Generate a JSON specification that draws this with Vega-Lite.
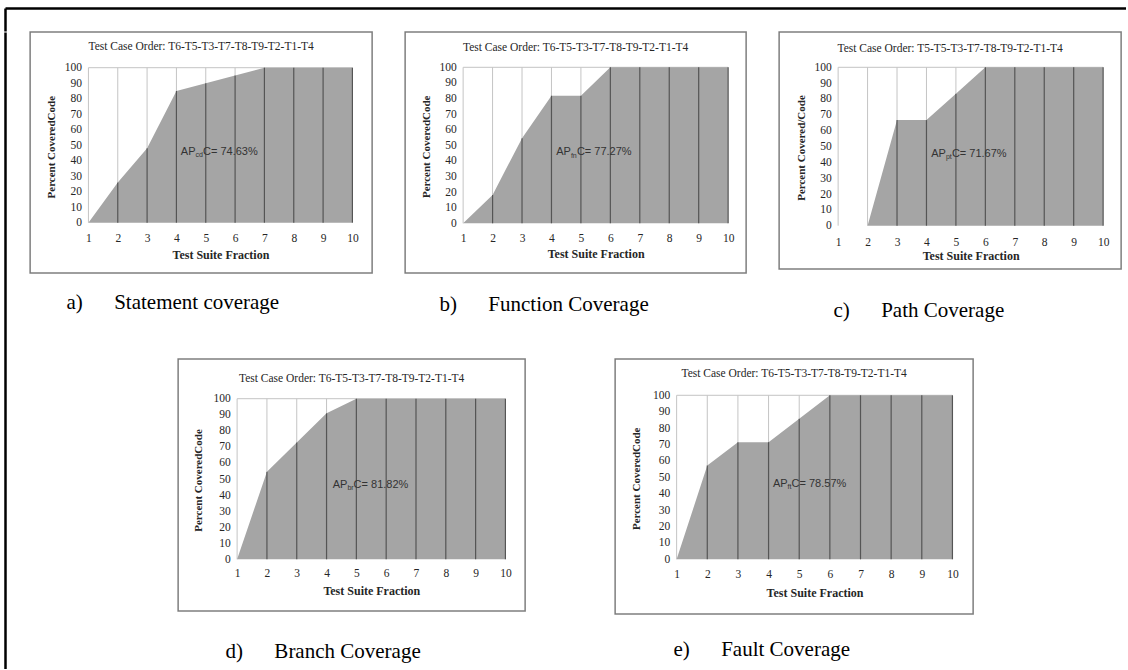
{
  "$schema": "https://vega.github.io/schema/vega-lite/v6.json",
  "padding": {"left": 5, "top": 8, "right": 0, "bottom": 0},
  "background": "white",
  "spacing": 0,
  "datasets": {
    "a": [{"x":1,"v":0},{"x":2,"v":26},{"x":3,"v":48},{"x":4,"v":85},{"x":5,"v":90},{"x":6,"v":95},{"x":7,"v":100},{"x":8,"v":100},{"x":9,"v":100},{"x":10,"v":100}],
    "b": [{"x":1,"v":0},{"x":2,"v":18.18},{"x":3,"v":54.55},{"x":4,"v":81.82},{"x":5,"v":81.82},{"x":6,"v":100},{"x":7,"v":100},{"x":8,"v":100},{"x":9,"v":100},{"x":10,"v":100}],
    "c": [{"x":1,"v":0},{"x":2,"v":0},{"x":3,"v":66.67},{"x":4,"v":66.67},{"x":5,"v":83.33},{"x":6,"v":100},{"x":7,"v":100},{"x":8,"v":100},{"x":9,"v":100},{"x":10,"v":100}],
    "d": [{"x":1,"v":0},{"x":2,"v":54.55},{"x":3,"v":72.73},{"x":4,"v":90.91},{"x":5,"v":100},{"x":6,"v":100},{"x":7,"v":100},{"x":8,"v":100},{"x":9,"v":100},{"x":10,"v":100}],
    "e": [{"x":1,"v":0},{"x":2,"v":57.14},{"x":3,"v":71.43},{"x":4,"v":71.43},{"x":5,"v":85.71},{"x":6,"v":100},{"x":7,"v":100},{"x":8,"v":100},{"x":9,"v":100},{"x":10,"v":100}],
    "ann_a": [{"ap":"AP","sub":"cd","val":"C= 74.63%"}],
    "ann_b": [{"ap":"AP","sub":"fn","val":"C= 77.27%"}],
    "ann_c": [{"ap":"AP","sub":"pt","val":"C= 71.67%"}],
    "ann_d": [{"ap":"AP","sub":"br","val":"C= 81.82%"}],
    "ann_e": [{"ap":"AP","sub":"ft","val":"C= 78.57%"}]
  },
  "vconcat": [
    {
      "width": 1121, "height": 23,
      "data": {"values": [{"v": 0}]},
      "mark": {"type": "point", "opacity": 0},
      "encoding": {
        "x": {"field": "v", "type": "quantitative", "axis": {"orient": "top", "domain": true, "domainColor": "#000000", "domainWidth": 2.5, "labels": false, "title": null}},
        "y": {"field": "v", "type": "quantitative", "axis": {"orient": "left", "domain": true, "domainColor": "#000000", "domainWidth": 2.5, "labels": false, "title": null}}
      }
    },
    {
      "spacing": 0,
      "hconcat": [
        {
          "width": 24, "height": 637,
          "data": {"values": [{"v": 0}]},
          "mark": {"type": "point", "opacity": 0},
          "encoding": {
            "y": {"field": "v", "type": "quantitative", "axis": {"orient": "left", "domain": true, "domainColor": "#000000", "domainWidth": 2.5, "labels": false, "title": null}}
          }
        },
        {
          "spacing": 36,
          "center": true,
          "vconcat": [
            {
              "spacing": 31,
              "hconcat": [
                {
                  "title": {"text": "a)\u00a0\u00a0\u00a0\u00a0\u00a0\u00a0Statement coverage", "orient": "bottom", "anchor": "start", "offset": 18.2, "dx": 37, "fontSize": 21, "color": "#000000"},
                  "vconcat": [
                    {
                      "width": 342, "height": 241,
                      "view": {"stroke": "#7f7f7f", "strokeWidth": 1.5},
                      "title": {"text": "Test Case Order: T6-T5-T3-T7-T8-T9-T2-T1-T4", "fontSize": 11.5, "offset": -20.75, "anchor": "middle", "color": "#262626"},
                      "data": {"name": "a"},
                      "layer": [
                        {"mark": {"type": "rule", "color": "#c4c4c4", "strokeWidth": 1}, "encoding": {"x": {"field": "x", "type": "quantitative"}, "y": {"field": "v", "type": "quantitative"}, "y2": {"datum": 100}}},
                        {"mark": {"type": "rule", "color": "#c4c4c4", "strokeWidth": 1}, "encoding": {"x": {"aggregate": "min", "field": "x", "type": "quantitative"}, "x2": {"aggregate": "max", "field": "x"}, "y": {"aggregate": "max", "field": "v", "type": "quantitative"}}},
                        {"mark": {"type": "area", "color": "#a5a5a5", "opacity": 1}, "encoding": {
                          "x": {"field": "x", "type": "quantitative", "scale": {"domain": [-0.9875, 10.6716], "nice": false, "zero": false}, "axis": {"values": [1,2,3,4,5,6,7,8,9,10], "format": "d", "tickCount": 50, "labelOverlap": false, "offset": -50.3, "labelPadding": 15.5, "labelBaseline": "middle", "title": "Test Suite Fraction", "titleFontSize": 12, "titleX": 190.3, "titleY": 31.5, "titleBaseline": "middle"}},
                          "y": {"field": "v", "type": "quantitative", "scale": {"domain": [-32.45, 123.03], "nice": false, "zero": false}, "axis": {"values": [0,10,20,30,40,50,60,70,80,90,100], "format": "d", "tickCount": 50, "labelOverlap": false, "offset": -58.3, "labelPadding": 7, "title": "Percent CoveredCode", "titleFontSize": 11, "titleX": -36.6, "titleY": 114.7, "titleBaseline": "middle"}}}},
                        {"mark": {"type": "rule", "color": "#555555", "strokeWidth": 1.2}, "encoding": {"x": {"field": "x", "type": "quantitative"}, "y": {"field": "v", "type": "quantitative"}, "y2": {"datum": 0}}},
                        {"data": {"name": "ann_a"}, "mark": {"type": "text", "align": "right", "baseline": "middle", "font": "Liberation Sans", "fontSize": 11, "color": "#333333"}, "encoding": {"x": {"datum": 4.65, "type": "quantitative"}, "y": {"datum": 45.8, "type": "quantitative"}, "text": {"field": "ap"}}},
                        {"data": {"name": "ann_a"}, "mark": {"type": "text", "align": "left", "baseline": "middle", "dy": 3.5, "font": "Liberation Sans", "fontSize": 7, "color": "#333333"}, "encoding": {"x": {"datum": 4.65, "type": "quantitative"}, "y": {"datum": 45.8, "type": "quantitative"}, "text": {"field": "sub"}}},
                        {"data": {"name": "ann_a"}, "mark": {"type": "text", "align": "left", "baseline": "middle", "dx": 7.5, "font": "Liberation Sans", "fontSize": 11, "color": "#333333"}, "encoding": {"x": {"datum": 4.65, "type": "quantitative"}, "y": {"datum": 45.8, "type": "quantitative"}, "text": {"field": "val"}}}
                      ]
                    }
                  ]
                },
                {
                  "title": {"text": "b)\u00a0\u00a0\u00a0\u00a0\u00a0\u00a0Function Coverage", "orient": "bottom", "anchor": "start", "offset": 20.5, "dx": 35, "fontSize": 21, "color": "#000000"},
                  "vconcat": [
                    {
                      "width": 341, "height": 241,
                      "view": {"stroke": "#7f7f7f", "strokeWidth": 1.5},
                      "title": {"text": "Test Case Order: T6-T5-T3-T7-T8-T9-T2-T1-T4", "fontSize": 11.5, "offset": -21, "anchor": "middle", "color": "#262626"},
                      "data": {"name": "b"},
                      "layer": [
                        {"mark": {"type": "rule", "color": "#c4c4c4", "strokeWidth": 1}, "encoding": {"x": {"field": "x", "type": "quantitative"}, "y": {"field": "v", "type": "quantitative"}, "y2": {"datum": 100}}},
                        {"mark": {"type": "rule", "color": "#c4c4c4", "strokeWidth": 1}, "encoding": {"x": {"aggregate": "min", "field": "x", "type": "quantitative"}, "x2": {"aggregate": "max", "field": "x"}, "y": {"aggregate": "max", "field": "v", "type": "quantitative"}}},
                        {"mark": {"type": "area", "color": "#a5a5a5", "opacity": 1}, "encoding": {
                          "x": {"field": "x", "type": "quantitative", "scale": {"domain": [-0.970, 10.611], "nice": false, "zero": false}, "axis": {"values": [1,2,3,4,5,6,7,8,9,10], "format": "d", "tickCount": 50, "labelOverlap": false, "offset": -49.7, "labelPadding": 15.5, "labelBaseline": "middle", "title": "Test Suite Fraction", "titleFontSize": 12, "titleX": 190.5, "titleY": 30, "titleBaseline": "middle"}},
                          "y": {"field": "v", "type": "quantitative", "scale": {"domain": [-31.86, 122.63], "nice": false, "zero": false}, "axis": {"values": [0,10,20,30,40,50,60,70,80,90,100], "format": "d", "tickCount": 50, "labelOverlap": false, "offset": -58, "labelPadding": 7, "title": "Percent CoveredCode", "titleFontSize": 11, "titleX": -36.7, "titleY": 114.3, "titleBaseline": "middle"}}}},
                        {"mark": {"type": "rule", "color": "#555555", "strokeWidth": 1.2}, "encoding": {"x": {"field": "x", "type": "quantitative"}, "y": {"field": "v", "type": "quantitative"}, "y2": {"datum": 0}}},
                        {"data": {"name": "ann_b"}, "mark": {"type": "text", "align": "right", "baseline": "middle", "font": "Liberation Sans", "fontSize": 11, "color": "#333333"}, "encoding": {"x": {"datum": 4.66, "type": "quantitative"}, "y": {"datum": 45.7, "type": "quantitative"}, "text": {"field": "ap"}}},
                        {"data": {"name": "ann_b"}, "mark": {"type": "text", "align": "left", "baseline": "middle", "dy": 3.5, "font": "Liberation Sans", "fontSize": 7, "color": "#333333"}, "encoding": {"x": {"datum": 4.66, "type": "quantitative"}, "y": {"datum": 45.7, "type": "quantitative"}, "text": {"field": "sub"}}},
                        {"data": {"name": "ann_b"}, "mark": {"type": "text", "align": "left", "baseline": "middle", "dx": 6, "font": "Liberation Sans", "fontSize": 11, "color": "#333333"}, "encoding": {"x": {"datum": 4.66, "type": "quantitative"}, "y": {"datum": 45.7, "type": "quantitative"}, "text": {"field": "val"}}}
                      ]
                    }
                  ]
                },
                {
                  "title": {"text": "c)\u00a0\u00a0\u00a0\u00a0\u00a0\u00a0Path Coverage", "orient": "bottom", "anchor": "start", "offset": 30.5, "dx": 55, "fontSize": 21, "color": "#000000"},
                  "vconcat": [
                    {
                      "width": 342, "height": 237,
                      "view": {"stroke": "#7f7f7f", "strokeWidth": 1.5},
                      "title": {"text": "Test Case Order: T5-T5-T3-T7-T8-T9-T2-T1-T4", "fontSize": 11.5, "offset": -22.75, "anchor": "middle", "color": "#262626"},
                      "data": {"name": "c"},
                      "layer": [
                        {"mark": {"type": "rule", "color": "#c4c4c4", "strokeWidth": 1}, "encoding": {"x": {"field": "x", "type": "quantitative"}, "y": {"field": "v", "type": "quantitative"}, "y2": {"datum": 100}}},
                        {"mark": {"type": "rule", "color": "#c4c4c4", "strokeWidth": 1}, "encoding": {"x": {"aggregate": "min", "field": "x", "type": "quantitative"}, "x2": {"aggregate": "max", "field": "x"}, "y": {"aggregate": "max", "field": "v", "type": "quantitative"}}},
                        {"mark": {"type": "area", "color": "#a5a5a5", "opacity": 1}, "encoding": {
                          "x": {"field": "x", "type": "quantitative", "scale": {"domain": [-1.004, 10.611], "nice": false, "zero": false}, "axis": {"values": [1,2,3,4,5,6,7,8,9,10], "format": "d", "tickCount": 50, "labelOverlap": false, "offset": -43.3, "labelPadding": 16.5, "labelBaseline": "middle", "title": "Test Suite Fraction", "titleFontSize": 12, "titleX": 191.5, "titleY": 30, "titleBaseline": "middle"}},
                          "y": {"field": "v", "type": "quantitative", "scale": {"domain": [-27.34, 122.29], "nice": false, "zero": false}, "axis": {"values": [0,10,20,30,40,50,60,70,80,90,100], "format": "d", "tickCount": 50, "labelOverlap": false, "offset": -59, "labelPadding": 7, "title": "Percent Covered/Code", "titleFontSize": 11, "titleX": -36.7, "titleY": 115.5, "titleBaseline": "middle"}}}},
                        {"mark": {"type": "rule", "color": "#555555", "strokeWidth": 1.2}, "encoding": {"x": {"field": "x", "type": "quantitative"}, "y": {"field": "v", "type": "quantitative"}, "y2": {"datum": 0}}},
                        {"data": {"name": "ann_c"}, "mark": {"type": "text", "align": "right", "baseline": "middle", "font": "Liberation Sans", "fontSize": 11, "color": "#333333"}, "encoding": {"x": {"datum": 4.66, "type": "quantitative"}, "y": {"datum": 45.3, "type": "quantitative"}, "text": {"field": "ap"}}},
                        {"data": {"name": "ann_c"}, "mark": {"type": "text", "align": "left", "baseline": "middle", "dy": 3.5, "font": "Liberation Sans", "fontSize": 7, "color": "#333333"}, "encoding": {"x": {"datum": 4.66, "type": "quantitative"}, "y": {"datum": 45.3, "type": "quantitative"}, "text": {"field": "sub"}}},
                        {"data": {"name": "ann_c"}, "mark": {"type": "text", "align": "left", "baseline": "middle", "dx": 6, "font": "Liberation Sans", "fontSize": 11, "color": "#333333"}, "encoding": {"x": {"datum": 4.66, "type": "quantitative"}, "y": {"datum": 45.3, "type": "quantitative"}, "text": {"field": "val"}}}
                      ]
                    }
                  ]
                }
              ]
            },
            {
              "spacing": 88,
              "hconcat": [
                {
                  "title": {"text": "d)\u00a0\u00a0\u00a0\u00a0\u00a0\u00a0Branch Coverage", "orient": "bottom", "anchor": "start", "offset": 28.8, "dx": 48, "fontSize": 21, "color": "#000000"},
                  "vconcat": [
                    {
                      "width": 347, "height": 252,
                      "view": {"stroke": "#7f7f7f", "strokeWidth": 1.5},
                      "title": {"text": "Test Case Order: T6-T5-T3-T7-T8-T9-T2-T1-T4", "fontSize": 11.5, "offset": -25.5, "anchor": "middle", "color": "#262626"},
                      "data": {"name": "d"},
                      "layer": [
                        {"mark": {"type": "rule", "color": "#c4c4c4", "strokeWidth": 1}, "encoding": {"x": {"field": "x", "type": "quantitative"}, "y": {"field": "v", "type": "quantitative"}, "y2": {"datum": 100}}},
                        {"mark": {"type": "rule", "color": "#c4c4c4", "strokeWidth": 1}, "encoding": {"x": {"aggregate": "min", "field": "x", "type": "quantitative"}, "x2": {"aggregate": "max", "field": "x"}, "y": {"aggregate": "max", "field": "v", "type": "quantitative"}}},
                        {"mark": {"type": "area", "color": "#a5a5a5", "opacity": 1}, "encoding": {
                          "x": {"field": "x", "type": "quantitative", "scale": {"domain": [-0.979, 10.661], "nice": false, "zero": false}, "axis": {"values": [1,2,3,4,5,6,7,8,9,10], "format": "d", "tickCount": 50, "labelOverlap": false, "offset": -51.7, "labelPadding": 14.5, "labelBaseline": "middle", "title": "Test Suite Fraction", "titleFontSize": 12, "titleX": 193.2, "titleY": 30.7, "titleBaseline": "middle"}},
                          "y": {"field": "v", "type": "quantitative", "scale": {"domain": [-32.19, 124.72], "nice": false, "zero": false}, "axis": {"values": [0,10,20,30,40,50,60,70,80,90,100], "format": "d", "tickCount": 50, "labelOverlap": false, "offset": -59, "labelPadding": 7, "title": "Percent CoveredCode", "titleFontSize": 11, "titleX": -38.9, "titleY": 121, "titleBaseline": "middle"}}}},
                        {"mark": {"type": "rule", "color": "#555555", "strokeWidth": 1.2}, "encoding": {"x": {"field": "x", "type": "quantitative"}, "y": {"field": "v", "type": "quantitative"}, "y2": {"datum": 0}}},
                        {"data": {"name": "ann_d"}, "mark": {"type": "text", "align": "right", "baseline": "middle", "font": "Liberation Sans", "fontSize": 11, "color": "#333333"}, "encoding": {"x": {"datum": 4.70, "type": "quantitative"}, "y": {"datum": 46.3, "type": "quantitative"}, "text": {"field": "ap"}}},
                        {"data": {"name": "ann_d"}, "mark": {"type": "text", "align": "left", "baseline": "middle", "dy": 3.5, "font": "Liberation Sans", "fontSize": 7, "color": "#333333"}, "encoding": {"x": {"datum": 4.70, "type": "quantitative"}, "y": {"datum": 46.3, "type": "quantitative"}, "text": {"field": "sub"}}},
                        {"data": {"name": "ann_d"}, "mark": {"type": "text", "align": "left", "baseline": "middle", "dx": 6.2, "font": "Liberation Sans", "fontSize": 11, "color": "#333333"}, "encoding": {"x": {"datum": 4.70, "type": "quantitative"}, "y": {"datum": 46.3, "type": "quantitative"}, "text": {"field": "val"}}}
                      ]
                    }
                  ]
                },
                {
                  "title": {"text": "e)\u00a0\u00a0\u00a0\u00a0\u00a0\u00a0Fault Coverage", "orient": "bottom", "anchor": "start", "offset": 24.2, "dx": 59, "fontSize": 21, "color": "#000000"},
                  "vconcat": [
                    {
                      "width": 358, "height": 255,
                      "view": {"stroke": "#7f7f7f", "strokeWidth": 1.5},
                      "title": {"text": "Test Case Order: T6-T5-T3-T7-T8-T9-T2-T1-T4", "fontSize": 11.5, "offset": -20.5, "anchor": "middle", "color": "#262626"},
                      "data": {"name": "e"},
                      "layer": [
                        {"mark": {"type": "rule", "color": "#c4c4c4", "strokeWidth": 1}, "encoding": {"x": {"field": "x", "type": "quantitative"}, "y": {"field": "v", "type": "quantitative"}, "y2": {"datum": 100}}},
                        {"mark": {"type": "rule", "color": "#c4c4c4", "strokeWidth": 1}, "encoding": {"x": {"aggregate": "min", "field": "x", "type": "quantitative"}, "x2": {"aggregate": "max", "field": "x"}, "y": {"aggregate": "max", "field": "v", "type": "quantitative"}}},
                        {"mark": {"type": "area", "color": "#a5a5a5", "opacity": 1}, "encoding": {
                          "x": {"field": "x", "type": "quantitative", "scale": {"domain": [-1.007, 10.675], "nice": false, "zero": false}, "axis": {"values": [1,2,3,4,5,6,7,8,9,10], "format": "d", "tickCount": 50, "labelOverlap": false, "offset": -54.7, "labelPadding": 15, "labelBaseline": "middle", "title": "Test Suite Fraction", "titleFontSize": 12, "titleX": 199.4, "titleY": 32.7, "titleBaseline": "middle"}},
                          "y": {"field": "v", "type": "quantitative", "scale": {"domain": [-33.35, 122.13], "nice": false, "zero": false}, "axis": {"values": [0,10,20,30,40,50,60,70,80,90,100], "format": "d", "tickCount": 50, "labelOverlap": false, "offset": -61.5, "labelPadding": 7, "title": "Percent CoveredCode", "titleFontSize": 11, "titleX": -40, "titleY": 119.3, "titleBaseline": "middle"}}}},
                        {"mark": {"type": "rule", "color": "#555555", "strokeWidth": 1.2}, "encoding": {"x": {"field": "x", "type": "quantitative"}, "y": {"field": "v", "type": "quantitative"}, "y2": {"datum": 0}}},
                        {"data": {"name": "ann_e"}, "mark": {"type": "text", "align": "right", "baseline": "middle", "font": "Liberation Sans", "fontSize": 11, "color": "#333333"}, "encoding": {"x": {"datum": 4.62, "type": "quantitative"}, "y": {"datum": 46.1, "type": "quantitative"}, "text": {"field": "ap"}}},
                        {"data": {"name": "ann_e"}, "mark": {"type": "text", "align": "left", "baseline": "middle", "dy": 3.5, "font": "Liberation Sans", "fontSize": 7, "color": "#333333"}, "encoding": {"x": {"datum": 4.62, "type": "quantitative"}, "y": {"datum": 46.1, "type": "quantitative"}, "text": {"field": "sub"}}},
                        {"data": {"name": "ann_e"}, "mark": {"type": "text", "align": "left", "baseline": "middle", "dx": 4, "font": "Liberation Sans", "fontSize": 11, "color": "#333333"}, "encoding": {"x": {"datum": 4.62, "type": "quantitative"}, "y": {"datum": 46.1, "type": "quantitative"}, "text": {"field": "val"}}}
                      ]
                    }
                  ]
                }
              ]
            }
          ]
        }
      ]
    }
  ],
  "config": {
    "view": {"stroke": null},
    "axis": {"ticks": false, "tickSize": 0, "domain": false, "grid": false, "labelFont": "Liberation Serif", "labelFontSize": 11.5, "labelColor": "#262626", "titleFont": "Liberation Serif", "titleFontWeight": "bold", "titleColor": "#262626", "labelOverlap": false, "labelFlush": false},
    "title": {"font": "Liberation Serif", "fontWeight": "normal"}
  }
}
